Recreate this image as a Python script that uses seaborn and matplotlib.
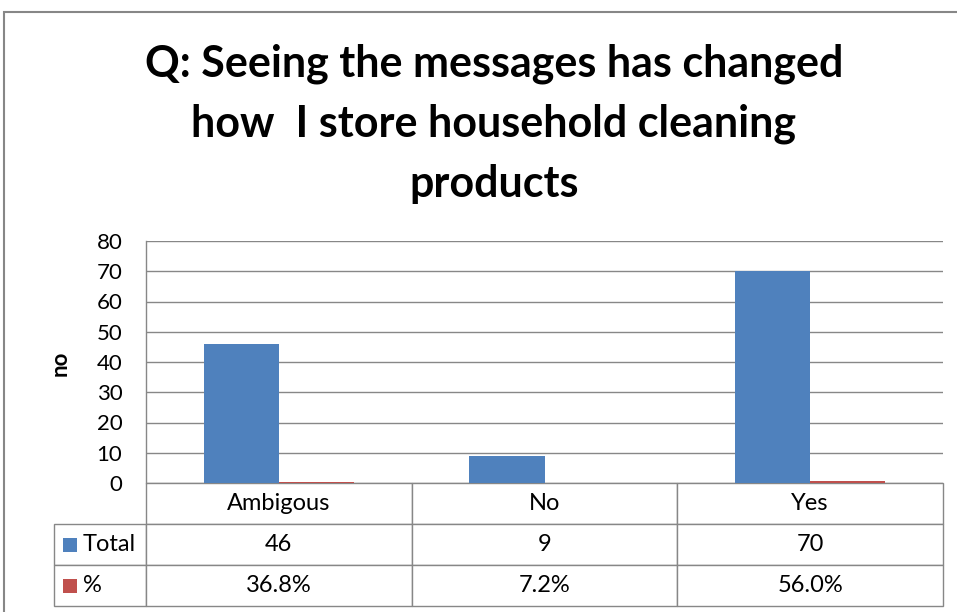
import pandas as pd
import matplotlib
matplotlib.use("Agg")
from matplotlib import pyplot as plt
from matplotlib.patches import Rectangle
import seaborn as sns

# data
categories = ['Ambigous', 'No', 'Yes']
series = ['Total', '%']
total = [46, 9, 70]
percent = [0.368, 0.072, 0.560]
y_ticks = [0, 10, 20, 30, 40, 50, 60, 70, 80]

title = 'Q: Seeing the messages has changed\nhow  I store household cleaning\nproducts'
colors = {'Total': '#4F81BD', '%': '#C0504D'}
gray = '#878787'

sns.set_style('white')
plt.rcParams['font.family'] = ['Lato', 'DejaVu Sans']
plt.rcParams['text.color'] = 'black'

df = pd.DataFrame({
    'category': categories * 2,
    'series': ['Total'] * len(total) + ['%'] * len(percent),
    'value': total + percent,
})

W, H = 957, 612
fig = plt.figure(figsize=(W / 100, H / 100), dpi=100)
ax = fig.add_axes([146 / W, 1 - 483 / H, (943 - 146) / W, (483 - 241) / H])

sns.barplot(data=df, x='category', y='value', hue='series', hue_order=series,
            palette=colors, saturation=1, width=0.566, errorbar=None,
            linewidth=0, legend=False, ax=ax)

ax.set_xlim(-0.5, len(categories) - 0.5)
ax.set_ylim(y_ticks[0], y_ticks[-1])
ax.set_yticks(y_ticks)
ax.set_xticks([])
ax.set_xlabel('')
ax.set_ylabel('')
ax.tick_params(axis='y', length=0, pad=17, labelsize=16, colors='black')
ax.yaxis.grid(True, color=gray, linewidth=1)
ax.set_axisbelow(True)
for side in ['top', 'right', 'bottom']:
    ax.spines[side].set_visible(False)
ax.spines['left'].set_color(gray)
ax.spines['left'].set_linewidth(1)

# data table under the plot (bbox covers the data columns only)
cell_text = [[str(v) for v in total], [f'{p * 100:.1f}%' for p in percent]]
tbl = ax.table(cellText=cell_text, rowLabels=series, colLabels=categories,
               cellLoc='center', rowLoc='left',
               bbox=[0, -(606 - 483) / 242, 1, (606 - 483) / 242])
tbl._autoColumns = []
tbl.auto_set_font_size(False)
tbl.set_fontsize(17)
col_w = tbl[(0, 0)].get_width()
for (r, c), cell in tbl.get_celld().items():
    cell.set_edgecolor(gray)
    cell.set_linewidth(1)
    cell.get_text().set_color('black')
    if c == -1:
        cell.set_width(col_w * 92 / 265.7)
        cell.PAD = 0.31

fig.text(494 / W, 1 - 197 / H, title, ha='center', va='baseline', color='black',
         fontsize=31, fontweight='bold', linespacing=1.6)
fig.text(60 / W, 1 - 363 / H, 'no', rotation=90, ha='center', va='center',
         color='black', fontsize=16, fontweight='bold')

# legend keys inside the table
for name, yc in zip(series, [545, 586]):
    fig.patches.append(Rectangle((63 / W, 1 - (yc + 7) / H), 14 / W, 14 / H,
                                 transform=fig.transFigure, facecolor=colors[name],
                                 edgecolor='none'))

# chart border
fig.patches.append(Rectangle((4 / W, -0.1), 2, 1.1 - 12 / H, transform=fig.transFigure,
                             fill=False, edgecolor=gray, linewidth=1.5))

fig.savefig('out.png', dpi=100)
